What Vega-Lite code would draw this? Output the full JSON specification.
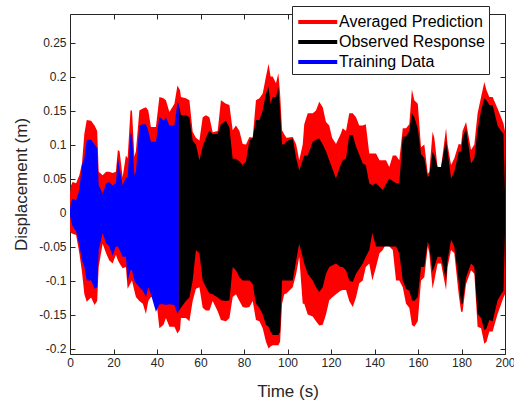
{
  "$schema": "https://vega.github.io/schema/vega-lite/v6.json",
  "width": 435,
  "height": 340,
  "autosize": {"type": "none"},
  "padding": {"left": 70, "top": 14, "right": 9, "bottom": 51},
  "background": "#ffffff",
  "config": {
    "view": {"stroke": "#262626", "strokeWidth": 1},
    "font": "Liberation Sans",
    "axis": {
      "labelFont": "Liberation Sans",
      "titleFont": "Liberation Sans",
      "labelFontSize": 12,
      "titleFontSize": 17,
      "titleFontWeight": "normal",
      "labelColor": "#262626",
      "titleColor": "#262626",
      "domainColor": "#262626",
      "tickColor": "#262626",
      "grid": false,
      "tickSize": -5,
      "labelFlush": false
    }
  },
  "data": {
    "values": [
      {"series": "Averaged Prediction", "t": 0, "hi": 0.028, "lo": -0.028},
      {"series": "Averaged Prediction", "t": 0.5, "hi": 0.04, "lo": -0.03},
      {"series": "Averaged Prediction", "t": 1.2, "hi": 0.045, "lo": -0.031},
      {"series": "Averaged Prediction", "t": 2.8, "hi": 0.043, "lo": -0.033},
      {"series": "Averaged Prediction", "t": 4.3, "hi": 0.055, "lo": -0.06},
      {"series": "Averaged Prediction", "t": 5.5, "hi": 0.072, "lo": -0.087},
      {"series": "Averaged Prediction", "t": 6.6, "hi": 0.116, "lo": -0.12},
      {"series": "Averaged Prediction", "t": 7.7, "hi": 0.136, "lo": -0.131},
      {"series": "Averaged Prediction", "t": 9.7, "hi": 0.135, "lo": -0.125},
      {"series": "Averaged Prediction", "t": 11.3, "hi": 0.128, "lo": -0.136},
      {"series": "Averaged Prediction", "t": 12.5, "hi": 0.12, "lo": -0.13},
      {"series": "Averaged Prediction", "t": 13.2, "hi": 0.06, "lo": -0.08},
      {"series": "Averaged Prediction", "t": 15, "hi": 0.055, "lo": -0.046},
      {"series": "Averaged Prediction", "t": 16.6, "hi": 0.06, "lo": -0.06},
      {"series": "Averaged Prediction", "t": 18, "hi": 0.06, "lo": -0.07},
      {"series": "Averaged Prediction", "t": 19.6, "hi": 0.058, "lo": -0.075},
      {"series": "Averaged Prediction", "t": 21.1, "hi": 0.06, "lo": -0.062},
      {"series": "Averaged Prediction", "t": 22, "hi": 0.092, "lo": -0.07},
      {"series": "Averaged Prediction", "t": 22.8, "hi": 0.09, "lo": -0.075},
      {"series": "Averaged Prediction", "t": 24.2, "hi": 0.052, "lo": -0.082},
      {"series": "Averaged Prediction", "t": 25.7, "hi": 0.084, "lo": -0.08},
      {"series": "Averaged Prediction", "t": 26.5, "hi": 0.08, "lo": -0.112},
      {"series": "Averaged Prediction", "t": 27.8, "hi": 0.15, "lo": -0.104},
      {"series": "Averaged Prediction", "t": 28.5, "hi": 0.15, "lo": -0.1},
      {"series": "Averaged Prediction", "t": 29.6, "hi": 0.082, "lo": -0.115},
      {"series": "Averaged Prediction", "t": 30.3, "hi": 0.09, "lo": -0.124},
      {"series": "Averaged Prediction", "t": 31.9, "hi": 0.15, "lo": -0.13},
      {"series": "Averaged Prediction", "t": 33.5, "hi": 0.153, "lo": -0.134},
      {"series": "Averaged Prediction", "t": 34.9, "hi": 0.155, "lo": -0.149},
      {"series": "Averaged Prediction", "t": 36, "hi": 0.15, "lo": -0.13},
      {"series": "Averaged Prediction", "t": 37.2, "hi": 0.126, "lo": -0.124},
      {"series": "Averaged Prediction", "t": 39.5, "hi": 0.126, "lo": -0.124},
      {"series": "Averaged Prediction", "t": 41.1, "hi": 0.17, "lo": -0.17},
      {"series": "Averaged Prediction", "t": 43, "hi": 0.168, "lo": -0.165},
      {"series": "Averaged Prediction", "t": 44.1, "hi": 0.165, "lo": -0.155},
      {"series": "Averaged Prediction", "t": 45.7, "hi": 0.148, "lo": -0.168},
      {"series": "Averaged Prediction", "t": 48, "hi": 0.16, "lo": -0.168},
      {"series": "Averaged Prediction", "t": 49.4, "hi": 0.187, "lo": -0.178},
      {"series": "Averaged Prediction", "t": 50.6, "hi": 0.18, "lo": -0.172},
      {"series": "Averaged Prediction", "t": 51, "hi": 0.17, "lo": -0.155},
      {"series": "Averaged Prediction", "t": 53.3, "hi": 0.168, "lo": -0.155},
      {"series": "Averaged Prediction", "t": 54.9, "hi": 0.165, "lo": -0.16},
      {"series": "Averaged Prediction", "t": 56.4, "hi": 0.119, "lo": -0.13},
      {"series": "Averaged Prediction", "t": 57.9, "hi": 0.11, "lo": -0.112},
      {"series": "Averaged Prediction", "t": 59.5, "hi": 0.106, "lo": -0.11},
      {"series": "Averaged Prediction", "t": 61, "hi": 0.14, "lo": -0.14},
      {"series": "Averaged Prediction", "t": 62.5, "hi": 0.143, "lo": -0.144},
      {"series": "Averaged Prediction", "t": 64.1, "hi": 0.14, "lo": -0.144},
      {"series": "Averaged Prediction", "t": 65.6, "hi": 0.118, "lo": -0.13},
      {"series": "Averaged Prediction", "t": 67.9, "hi": 0.12, "lo": -0.145},
      {"series": "Averaged Prediction", "t": 69.4, "hi": 0.165, "lo": -0.158},
      {"series": "Averaged Prediction", "t": 71.7, "hi": 0.16, "lo": -0.16},
      {"series": "Averaged Prediction", "t": 73.3, "hi": 0.158, "lo": -0.155},
      {"series": "Averaged Prediction", "t": 74.8, "hi": 0.121, "lo": -0.124},
      {"series": "Averaged Prediction", "t": 76.3, "hi": 0.128, "lo": -0.12},
      {"series": "Averaged Prediction", "t": 77.9, "hi": 0.12, "lo": -0.13},
      {"series": "Averaged Prediction", "t": 79.4, "hi": 0.101, "lo": -0.139},
      {"series": "Averaged Prediction", "t": 80.9, "hi": 0.1, "lo": -0.14},
      {"series": "Averaged Prediction", "t": 82.5, "hi": 0.111, "lo": -0.139},
      {"series": "Averaged Prediction", "t": 84, "hi": 0.11, "lo": -0.13},
      {"series": "Averaged Prediction", "t": 85.5, "hi": 0.165, "lo": -0.158},
      {"series": "Averaged Prediction", "t": 87.1, "hi": 0.168, "lo": -0.16},
      {"series": "Averaged Prediction", "t": 88.6, "hi": 0.175, "lo": -0.17},
      {"series": "Averaged Prediction", "t": 90.1, "hi": 0.2, "lo": -0.19},
      {"series": "Averaged Prediction", "t": 91.3, "hi": 0.219, "lo": -0.2},
      {"series": "Averaged Prediction", "t": 92.2, "hi": 0.2, "lo": -0.197},
      {"series": "Averaged Prediction", "t": 93.2, "hi": 0.2, "lo": -0.195},
      {"series": "Averaged Prediction", "t": 94.7, "hi": 0.19, "lo": -0.195},
      {"series": "Averaged Prediction", "t": 95.8, "hi": 0.205, "lo": -0.195},
      {"series": "Averaged Prediction", "t": 96.6, "hi": 0.175, "lo": -0.19},
      {"series": "Averaged Prediction", "t": 97.5, "hi": 0.121, "lo": -0.134},
      {"series": "Averaged Prediction", "t": 98.5, "hi": 0.115, "lo": -0.12},
      {"series": "Averaged Prediction", "t": 99.5, "hi": 0.11, "lo": -0.119},
      {"series": "Averaged Prediction", "t": 102.4, "hi": 0.111, "lo": -0.11},
      {"series": "Averaged Prediction", "t": 104, "hi": 0.1, "lo": -0.09},
      {"series": "Averaged Prediction", "t": 105.4, "hi": 0.077, "lo": -0.065},
      {"series": "Averaged Prediction", "t": 107, "hi": 0.1, "lo": -0.134},
      {"series": "Averaged Prediction", "t": 107.7, "hi": 0.13, "lo": -0.134},
      {"series": "Averaged Prediction", "t": 109.3, "hi": 0.146, "lo": -0.15},
      {"series": "Averaged Prediction", "t": 111.6, "hi": 0.146, "lo": -0.153},
      {"series": "Averaged Prediction", "t": 113.1, "hi": 0.15, "lo": -0.16},
      {"series": "Averaged Prediction", "t": 114.6, "hi": 0.163, "lo": -0.166},
      {"series": "Averaged Prediction", "t": 116.2, "hi": 0.155, "lo": -0.165},
      {"series": "Averaged Prediction", "t": 117.7, "hi": 0.133, "lo": -0.15},
      {"series": "Averaged Prediction", "t": 119.2, "hi": 0.128, "lo": -0.129},
      {"series": "Averaged Prediction", "t": 120.5, "hi": 0.11, "lo": -0.125},
      {"series": "Averaged Prediction", "t": 122.3, "hi": 0.101, "lo": -0.12},
      {"series": "Averaged Prediction", "t": 124.4, "hi": 0.115, "lo": -0.115},
      {"series": "Averaged Prediction", "t": 125.4, "hi": 0.124, "lo": -0.114},
      {"series": "Averaged Prediction", "t": 126.9, "hi": 0.12, "lo": -0.114},
      {"series": "Averaged Prediction", "t": 128.4, "hi": 0.146, "lo": -0.13},
      {"series": "Averaged Prediction", "t": 130, "hi": 0.146, "lo": -0.139},
      {"series": "Averaged Prediction", "t": 131.5, "hi": 0.14, "lo": -0.125},
      {"series": "Averaged Prediction", "t": 133, "hi": 0.128, "lo": -0.104},
      {"series": "Averaged Prediction", "t": 134.6, "hi": 0.128, "lo": -0.1},
      {"series": "Averaged Prediction", "t": 136, "hi": 0.13, "lo": -0.08},
      {"series": "Averaged Prediction", "t": 137.6, "hi": 0.087, "lo": -0.075},
      {"series": "Averaged Prediction", "t": 139, "hi": 0.087, "lo": -0.1},
      {"series": "Averaged Prediction", "t": 140.7, "hi": 0.087, "lo": -0.08},
      {"series": "Averaged Prediction", "t": 142.3, "hi": 0.077, "lo": -0.06},
      {"series": "Averaged Prediction", "t": 143.8, "hi": 0.077, "lo": -0.055},
      {"series": "Averaged Prediction", "t": 145.3, "hi": 0.077, "lo": -0.046},
      {"series": "Averaged Prediction", "t": 146.8, "hi": 0.067, "lo": -0.05},
      {"series": "Averaged Prediction", "t": 148.4, "hi": 0.084, "lo": -0.055},
      {"series": "Averaged Prediction", "t": 149.9, "hi": 0.084, "lo": -0.1},
      {"series": "Averaged Prediction", "t": 151.4, "hi": 0.077, "lo": -0.1},
      {"series": "Averaged Prediction", "t": 153, "hi": 0.124, "lo": -0.11},
      {"series": "Averaged Prediction", "t": 154.5, "hi": 0.124, "lo": -0.134},
      {"series": "Averaged Prediction", "t": 156, "hi": 0.13, "lo": -0.14},
      {"series": "Averaged Prediction", "t": 157.2, "hi": 0.181, "lo": -0.165},
      {"series": "Averaged Prediction", "t": 158.3, "hi": 0.165, "lo": -0.168},
      {"series": "Averaged Prediction", "t": 159.9, "hi": 0.16, "lo": -0.16},
      {"series": "Averaged Prediction", "t": 161.4, "hi": 0.096, "lo": -0.1},
      {"series": "Averaged Prediction", "t": 162.9, "hi": 0.1, "lo": -0.095},
      {"series": "Averaged Prediction", "t": 164.5, "hi": 0.057, "lo": -0.05},
      {"series": "Averaged Prediction", "t": 165.2, "hi": 0.06, "lo": -0.06},
      {"series": "Averaged Prediction", "t": 166.7, "hi": 0.119, "lo": -0.112},
      {"series": "Averaged Prediction", "t": 167.5, "hi": 0.11, "lo": -0.1},
      {"series": "Averaged Prediction", "t": 169, "hi": 0.067, "lo": -0.075},
      {"series": "Averaged Prediction", "t": 170.6, "hi": 0.067, "lo": -0.075},
      {"series": "Averaged Prediction", "t": 172.9, "hi": 0.124, "lo": -0.114},
      {"series": "Averaged Prediction", "t": 173.6, "hi": 0.1, "lo": -0.08},
      {"series": "Averaged Prediction", "t": 175.2, "hi": 0.07, "lo": -0.055},
      {"series": "Averaged Prediction", "t": 176.7, "hi": 0.08, "lo": -0.06},
      {"series": "Averaged Prediction", "t": 178.7, "hi": 0.101, "lo": -0.12},
      {"series": "Averaged Prediction", "t": 179.8, "hi": 0.1, "lo": -0.146},
      {"series": "Averaged Prediction", "t": 180.5, "hi": 0.12, "lo": -0.146},
      {"series": "Averaged Prediction", "t": 182.1, "hi": 0.133, "lo": -0.105},
      {"series": "Averaged Prediction", "t": 184.4, "hi": 0.092, "lo": -0.085},
      {"series": "Averaged Prediction", "t": 185.9, "hi": 0.1, "lo": -0.09},
      {"series": "Averaged Prediction", "t": 187.4, "hi": 0.146, "lo": -0.168},
      {"series": "Averaged Prediction", "t": 189, "hi": 0.17, "lo": -0.17},
      {"series": "Averaged Prediction", "t": 190.5, "hi": 0.192, "lo": -0.193},
      {"series": "Averaged Prediction", "t": 191.5, "hi": 0.18, "lo": -0.19},
      {"series": "Averaged Prediction", "t": 192.8, "hi": 0.17, "lo": -0.175},
      {"series": "Averaged Prediction", "t": 194.3, "hi": 0.17, "lo": -0.175},
      {"series": "Averaged Prediction", "t": 196.6, "hi": 0.153, "lo": -0.149},
      {"series": "Averaged Prediction", "t": 198.2, "hi": 0.14, "lo": -0.135},
      {"series": "Averaged Prediction", "t": 199.3, "hi": 0.131, "lo": -0.125},
      {"series": "Averaged Prediction", "t": 200, "hi": 0.12, "lo": -0.12},

      {"series": "Observed Response", "t": 49.9, "hi": 0.16, "lo": -0.145},
      {"series": "Observed Response", "t": 51, "hi": 0.143, "lo": -0.14},
      {"series": "Observed Response", "t": 53.3, "hi": 0.143, "lo": -0.13},
      {"series": "Observed Response", "t": 54.9, "hi": 0.14, "lo": -0.125},
      {"series": "Observed Response", "t": 56.4, "hi": 0.106, "lo": -0.1},
      {"series": "Observed Response", "t": 57.9, "hi": 0.1, "lo": -0.055},
      {"series": "Observed Response", "t": 59.5, "hi": 0.077, "lo": -0.06},
      {"series": "Observed Response", "t": 61, "hi": 0.097, "lo": -0.1},
      {"series": "Observed Response", "t": 62.5, "hi": 0.11, "lo": -0.11},
      {"series": "Observed Response", "t": 64.1, "hi": 0.121, "lo": -0.119},
      {"series": "Observed Response", "t": 65.6, "hi": 0.115, "lo": -0.12},
      {"series": "Observed Response", "t": 67.9, "hi": 0.116, "lo": -0.125},
      {"series": "Observed Response", "t": 69.4, "hi": 0.13, "lo": -0.129},
      {"series": "Observed Response", "t": 71.7, "hi": 0.135, "lo": -0.13},
      {"series": "Observed Response", "t": 73.3, "hi": 0.125, "lo": -0.129},
      {"series": "Observed Response", "t": 74.8, "hi": 0.079, "lo": -0.08},
      {"series": "Observed Response", "t": 76.3, "hi": 0.079, "lo": -0.085},
      {"series": "Observed Response", "t": 77.9, "hi": 0.075, "lo": -0.095},
      {"series": "Observed Response", "t": 79.4, "hi": 0.07, "lo": -0.1},
      {"series": "Observed Response", "t": 80.9, "hi": 0.075, "lo": -0.1},
      {"series": "Observed Response", "t": 82.5, "hi": 0.106, "lo": -0.1},
      {"series": "Observed Response", "t": 84, "hi": 0.11, "lo": -0.105},
      {"series": "Observed Response", "t": 85.5, "hi": 0.136, "lo": -0.134},
      {"series": "Observed Response", "t": 87.1, "hi": 0.136, "lo": -0.14},
      {"series": "Observed Response", "t": 88.6, "hi": 0.15, "lo": -0.15},
      {"series": "Observed Response", "t": 90.1, "hi": 0.175, "lo": -0.165},
      {"series": "Observed Response", "t": 91.3, "hi": 0.185, "lo": -0.168},
      {"series": "Observed Response", "t": 92.2, "hi": 0.16, "lo": -0.175},
      {"series": "Observed Response", "t": 93.2, "hi": 0.17, "lo": -0.18},
      {"series": "Observed Response", "t": 94.7, "hi": 0.17, "lo": -0.18},
      {"series": "Observed Response", "t": 95.8, "hi": 0.185, "lo": -0.18},
      {"series": "Observed Response", "t": 96.6, "hi": 0.15, "lo": -0.175},
      {"series": "Observed Response", "t": 97.5, "hi": 0.1, "lo": -0.1},
      {"series": "Observed Response", "t": 98.5, "hi": 0.1, "lo": -0.1},
      {"series": "Observed Response", "t": 99.5, "hi": 0.105, "lo": -0.1},
      {"series": "Observed Response", "t": 102.4, "hi": 0.109, "lo": -0.1},
      {"series": "Observed Response", "t": 104, "hi": 0.08, "lo": -0.07},
      {"series": "Observed Response", "t": 105.4, "hi": 0.062, "lo": -0.046},
      {"series": "Observed Response", "t": 107.7, "hi": 0.084, "lo": -0.075},
      {"series": "Observed Response", "t": 109.3, "hi": 0.084, "lo": -0.09},
      {"series": "Observed Response", "t": 111.6, "hi": 0.104, "lo": -0.1},
      {"series": "Observed Response", "t": 113.1, "hi": 0.107, "lo": -0.11},
      {"series": "Observed Response", "t": 114.6, "hi": 0.109, "lo": -0.117},
      {"series": "Observed Response", "t": 116.2, "hi": 0.1, "lo": -0.11},
      {"series": "Observed Response", "t": 117.7, "hi": 0.09, "lo": -0.09},
      {"series": "Observed Response", "t": 119.2, "hi": 0.077, "lo": -0.08},
      {"series": "Observed Response", "t": 122.3, "hi": 0.05, "lo": -0.075},
      {"series": "Observed Response", "t": 124.4, "hi": 0.07, "lo": -0.08},
      {"series": "Observed Response", "t": 125.4, "hi": 0.077, "lo": -0.08},
      {"series": "Observed Response", "t": 126.9, "hi": 0.08, "lo": -0.085},
      {"series": "Observed Response", "t": 128.4, "hi": 0.114, "lo": -0.1},
      {"series": "Observed Response", "t": 130, "hi": 0.114, "lo": -0.102},
      {"series": "Observed Response", "t": 131.5, "hi": 0.097, "lo": -0.09},
      {"series": "Observed Response", "t": 134.6, "hi": 0.072, "lo": -0.075},
      {"series": "Observed Response", "t": 136, "hi": 0.07, "lo": -0.065},
      {"series": "Observed Response", "t": 137.6, "hi": 0.043, "lo": -0.055},
      {"series": "Observed Response", "t": 139, "hi": 0.04, "lo": -0.03},
      {"series": "Observed Response", "t": 140.7, "hi": 0.043, "lo": -0.05},
      {"series": "Observed Response", "t": 143.8, "hi": 0.033, "lo": -0.05},
      {"series": "Observed Response", "t": 146.8, "hi": 0.05, "lo": -0.05},
      {"series": "Observed Response", "t": 149.9, "hi": 0.043, "lo": -0.05},
      {"series": "Observed Response", "t": 151.4, "hi": 0.043, "lo": -0.06},
      {"series": "Observed Response", "t": 153, "hi": 0.112, "lo": -0.1},
      {"series": "Observed Response", "t": 154.5, "hi": 0.112, "lo": -0.112},
      {"series": "Observed Response", "t": 156, "hi": 0.12, "lo": -0.115},
      {"series": "Observed Response", "t": 157.2, "hi": 0.146, "lo": -0.129},
      {"series": "Observed Response", "t": 158.3, "hi": 0.14, "lo": -0.13},
      {"series": "Observed Response", "t": 159.9, "hi": 0.124, "lo": -0.124},
      {"series": "Observed Response", "t": 161.4, "hi": 0.086, "lo": -0.08},
      {"series": "Observed Response", "t": 162.9, "hi": 0.08, "lo": -0.08},
      {"series": "Observed Response", "t": 164.5, "hi": 0.052, "lo": -0.043},
      {"series": "Observed Response", "t": 165.2, "hi": 0.055, "lo": -0.05},
      {"series": "Observed Response", "t": 166.7, "hi": 0.089, "lo": -0.087},
      {"series": "Observed Response", "t": 167.5, "hi": 0.085, "lo": -0.08},
      {"series": "Observed Response", "t": 169, "hi": 0.067, "lo": -0.065},
      {"series": "Observed Response", "t": 170.6, "hi": 0.067, "lo": -0.065},
      {"series": "Observed Response", "t": 172.9, "hi": 0.106, "lo": -0.1},
      {"series": "Observed Response", "t": 173.6, "hi": 0.09, "lo": -0.07},
      {"series": "Observed Response", "t": 175.2, "hi": 0.05, "lo": -0.04},
      {"series": "Observed Response", "t": 176.7, "hi": 0.06, "lo": -0.05},
      {"series": "Observed Response", "t": 178.7, "hi": 0.089, "lo": -0.1},
      {"series": "Observed Response", "t": 179.8, "hi": 0.09, "lo": -0.134},
      {"series": "Observed Response", "t": 180.5, "hi": 0.11, "lo": -0.134},
      {"series": "Observed Response", "t": 182.1, "hi": 0.124, "lo": -0.095},
      {"series": "Observed Response", "t": 184.4, "hi": 0.072, "lo": -0.075},
      {"series": "Observed Response", "t": 185.9, "hi": 0.08, "lo": -0.08},
      {"series": "Observed Response", "t": 187.4, "hi": 0.121, "lo": -0.149},
      {"series": "Observed Response", "t": 189, "hi": 0.15, "lo": -0.155},
      {"series": "Observed Response", "t": 190.5, "hi": 0.168, "lo": -0.173},
      {"series": "Observed Response", "t": 191.5, "hi": 0.165, "lo": -0.17},
      {"series": "Observed Response", "t": 192.8, "hi": 0.158, "lo": -0.158},
      {"series": "Observed Response", "t": 194.3, "hi": 0.158, "lo": -0.16},
      {"series": "Observed Response", "t": 196.6, "hi": 0.128, "lo": -0.129},
      {"series": "Observed Response", "t": 198.2, "hi": 0.12, "lo": -0.12},
      {"series": "Observed Response", "t": 199.3, "hi": 0.116, "lo": -0.115},
      {"series": "Observed Response", "t": 200, "hi": 0.03, "lo": -0.03},

      {"series": "Training Data", "t": 0, "hi": 0.005, "lo": -0.005},
      {"series": "Training Data", "t": 0.5, "hi": 0.016, "lo": -0.012},
      {"series": "Training Data", "t": 1.2, "hi": 0.02, "lo": -0.02},
      {"series": "Training Data", "t": 2.8, "hi": 0.018, "lo": -0.028},
      {"series": "Training Data", "t": 4.3, "hi": 0.033, "lo": -0.048},
      {"series": "Training Data", "t": 5.5, "hi": 0.07, "lo": -0.07},
      {"series": "Training Data", "t": 6.6, "hi": 0.08, "lo": -0.08},
      {"series": "Training Data", "t": 7.7, "hi": 0.107, "lo": -0.1},
      {"series": "Training Data", "t": 9.7, "hi": 0.107, "lo": -0.1},
      {"series": "Training Data", "t": 11.3, "hi": 0.1, "lo": -0.112},
      {"series": "Training Data", "t": 12.5, "hi": 0.095, "lo": -0.11},
      {"series": "Training Data", "t": 13.2, "hi": 0.04, "lo": -0.055},
      {"series": "Training Data", "t": 15, "hi": 0.028, "lo": -0.03},
      {"series": "Training Data", "t": 16.6, "hi": 0.043, "lo": -0.045},
      {"series": "Training Data", "t": 18, "hi": 0.045, "lo": -0.05},
      {"series": "Training Data", "t": 19.6, "hi": 0.04, "lo": -0.063},
      {"series": "Training Data", "t": 21.1, "hi": 0.043, "lo": -0.05},
      {"series": "Training Data", "t": 22, "hi": 0.08, "lo": -0.05},
      {"series": "Training Data", "t": 22.8, "hi": 0.065, "lo": -0.055},
      {"series": "Training Data", "t": 24.2, "hi": 0.04, "lo": -0.065},
      {"series": "Training Data", "t": 25.7, "hi": 0.052, "lo": -0.065},
      {"series": "Training Data", "t": 26.5, "hi": 0.052, "lo": -0.1},
      {"series": "Training Data", "t": 27.8, "hi": 0.116, "lo": -0.085},
      {"series": "Training Data", "t": 28.5, "hi": 0.116, "lo": -0.085},
      {"series": "Training Data", "t": 29.6, "hi": 0.055, "lo": -0.1},
      {"series": "Training Data", "t": 30.3, "hi": 0.06, "lo": -0.104},
      {"series": "Training Data", "t": 31.9, "hi": 0.128, "lo": -0.11},
      {"series": "Training Data", "t": 33.5, "hi": 0.13, "lo": -0.115},
      {"series": "Training Data", "t": 34.9, "hi": 0.13, "lo": -0.124},
      {"series": "Training Data", "t": 36, "hi": 0.12, "lo": -0.11},
      {"series": "Training Data", "t": 37.2, "hi": 0.104, "lo": -0.12},
      {"series": "Training Data", "t": 39.5, "hi": 0.104, "lo": -0.146},
      {"series": "Training Data", "t": 41.1, "hi": 0.141, "lo": -0.135},
      {"series": "Training Data", "t": 43, "hi": 0.135, "lo": -0.135},
      {"series": "Training Data", "t": 44.1, "hi": 0.14, "lo": -0.136},
      {"series": "Training Data", "t": 45.7, "hi": 0.128, "lo": -0.135},
      {"series": "Training Data", "t": 48, "hi": 0.128, "lo": -0.136},
      {"series": "Training Data", "t": 49.4, "hi": 0.163, "lo": -0.149},
      {"series": "Training Data", "t": 50, "hi": 0.16, "lo": -0.145}
    ]
  },
  "layer": [
    {
      "transform": [{"filter": "datum.series === 'Averaged Prediction'"}],
      "mark": {"type": "area"},
      "encoding": {
        "x": {"field": "t", "type": "quantitative", "scale": {"domain": [0, 200], "nice": false},
          "axis": {"title": "Time (s)", "values": [0, 20, 40, 60, 80, 100, 120, 140, 160, 180, 200], "domain": false, "labelPadding": 8, "titlePadding": 15}},
        "y": {"field": "hi", "type": "quantitative", "scale": {"domain": [-0.208, 0.292], "nice": false, "zero": false},
          "axis": {"title": "Displacement (m)", "values": [-0.2, -0.15, -0.1, -0.05, 0, 0.05, 0.1, 0.15, 0.2, 0.25], "domain": false, "labelPadding": 9, "titlePadding": 8,
            "labelExpr": "replace(format(datum.value, '.2~f'), '\u2212', '-')"}},
        "y2": {"field": "lo"},
        "color": {"field": "series", "type": "nominal",
          "scale": {"domain": ["Averaged Prediction", "Observed Response", "Training Data"], "range": ["#ff0000", "#000000", "#0000ff"]},
          "legend": {"orient": "none", "legendX": 222, "legendY": -8, "title": null,
            "symbolType": "M-1,0H3", "symbolSize": 380, "symbolStrokeWidth": 4,
            "labelFont": "Liberation Sans", "labelFontSize": 16, "labelColor": "#000000", "labelOffset": 19,
            "strokeColor": "#262626", "fillColor": "#ffffff", "padding": 4, "rowPadding": 0,
            "encode": {"symbols": {"update": {"stroke": {"signal": "scale('color', datum.value)"}, "fill": {"value": "transparent"}}}}}}
      }
    },
    {
      "transform": [{"filter": "datum.series === 'Observed Response'"}],
      "mark": {"type": "area"},
      "encoding": {
        "x": {"field": "t", "type": "quantitative",
          "axis": {"orient": "top", "title": null, "labels": false, "domain": false, "values": [0, 20, 40, 60, 80, 100, 120, 140, 160, 180, 200]}},
        "y": {"field": "hi", "type": "quantitative",
          "axis": {"orient": "right", "title": null, "labels": false, "domain": false, "values": [-0.2, -0.15, -0.1, -0.05, 0, 0.05, 0.1, 0.15, 0.2, 0.25]}},
        "y2": {"field": "lo"},
        "color": {"field": "series", "type": "nominal"}
      }
    },
    {
      "transform": [{"filter": "datum.series === 'Training Data'"}],
      "mark": {"type": "area"},
      "encoding": {
        "x": {"field": "t", "type": "quantitative", "axis": null},
        "y": {"field": "hi", "type": "quantitative", "axis": null},
        "y2": {"field": "lo"},
        "color": {"field": "series", "type": "nominal"}
      }
    }
  ],
  "resolve": {"axis": {"x": "independent", "y": "independent"}}
}
